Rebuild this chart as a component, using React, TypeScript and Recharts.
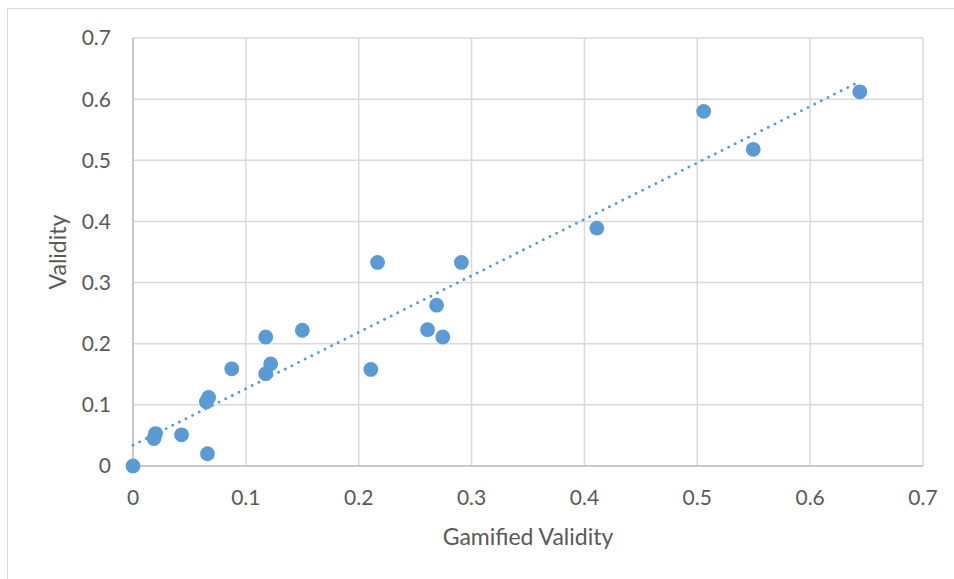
import React from "react";
import {
  ScatterChart,
  Scatter,
  XAxis,
  YAxis,
  CartesianGrid,
} from "recharts";

const gamifiedValidity = [
  0, 0.0186, 0.02, 0.043, 0.066, 0.065, 0.067, 0.0875, 0.1176, 0.1176, 0.122,
  0.15, 0.2107, 0.2167, 0.261, 0.269, 0.2745, 0.291, 0.411, 0.5057, 0.5496,
  0.644,
];
const validity = [
  0, 0.045, 0.053, 0.051, 0.02, 0.105, 0.112, 0.159, 0.211, 0.151, 0.167,
  0.222, 0.158, 0.333, 0.223, 0.263, 0.211, 0.333, 0.389, 0.58, 0.518, 0.612,
];

// linear trendline ends
const trendX = [0, 0.643];
const trendY = [0.034, 0.628];

const ticks = [0, 0.1, 0.2, 0.3, 0.4, 0.5, 0.6, 0.7];

const points = gamifiedValidity.map((x, i) => ({ x, y: validity[i] }));
const trend = trendX.map((x, i) => ({ x, y: trendY[i] }));

const font = "Lato, 'Open Sans', sans-serif";
const blue = "#5B9BD5";
const tickStyle = { fill: "#595959", fontSize: 21, fontFamily: font };
const titleStyle = { fill: "#595959", fontSize: 23, fontFamily: font };

const Dot = (props: any) => (
  <circle cx={props.cx} cy={props.cy} r={7.4} fill={blue} />
);

export default function App() {
  return (
    <div
      style={{
        position: "fixed",
        left: 0,
        top: 0,
        width: 954,
        height: 579,
        overflow: "hidden",
        background: "#fff",
      }}
    >
      <div
        style={{
          position: "absolute",
          left: 7,
          top: 8,
          width: 1000,
          height: 1000,
          border: "1px solid #d9d9d9",
        }}
      >
        <ScatterChart
          width={946}
          height={570}
          margin={{ top: 29, right: 31, bottom: 33, left: 5 }}
        >
          <CartesianGrid stroke="#d9d9d9" strokeWidth={1.5} />
          <XAxis
            type="number"
            dataKey="x"
            domain={[0, 0.7]}
            ticks={ticks}
            height={80}
            tickLine={false}
            tickSize={0}
            tickMargin={24}
            axisLine={{ stroke: "#bfbfbf", strokeWidth: 1.5 }}
            tick={tickStyle}
            label={{
              value: "Gamified Validity",
              position: "insideBottom",
              offset: 1,
              style: titleStyle,
            }}
          />
          <YAxis
            type="number"
            dataKey="y"
            domain={[0, 0.7]}
            ticks={ticks}
            width={120}
            tickLine={false}
            tickSize={0}
            tickMargin={22}
            axisLine={{ stroke: "#bfbfbf", strokeWidth: 1.5 }}
            tick={tickStyle}
            label={{
              value: "Validity",
              angle: -90,
              position: "insideLeft",
              offset: 45,
              textAnchor: "middle",
              style: titleStyle,
            }}
          />
          <Scatter
            data={points}
            fill={blue}
            shape={Dot}
            isAnimationActive={false}
          />
          <Scatter
            data={trend}
            fill={blue}
            line={{
              stroke: blue,
              strokeWidth: 2.8,
              strokeDasharray: "0.1 7.3",
              strokeLinecap: "round",
            }}
            shape={() => <g />}
            isAnimationActive={false}
          />
        </ScatterChart>
      </div>
    </div>
  );
}
